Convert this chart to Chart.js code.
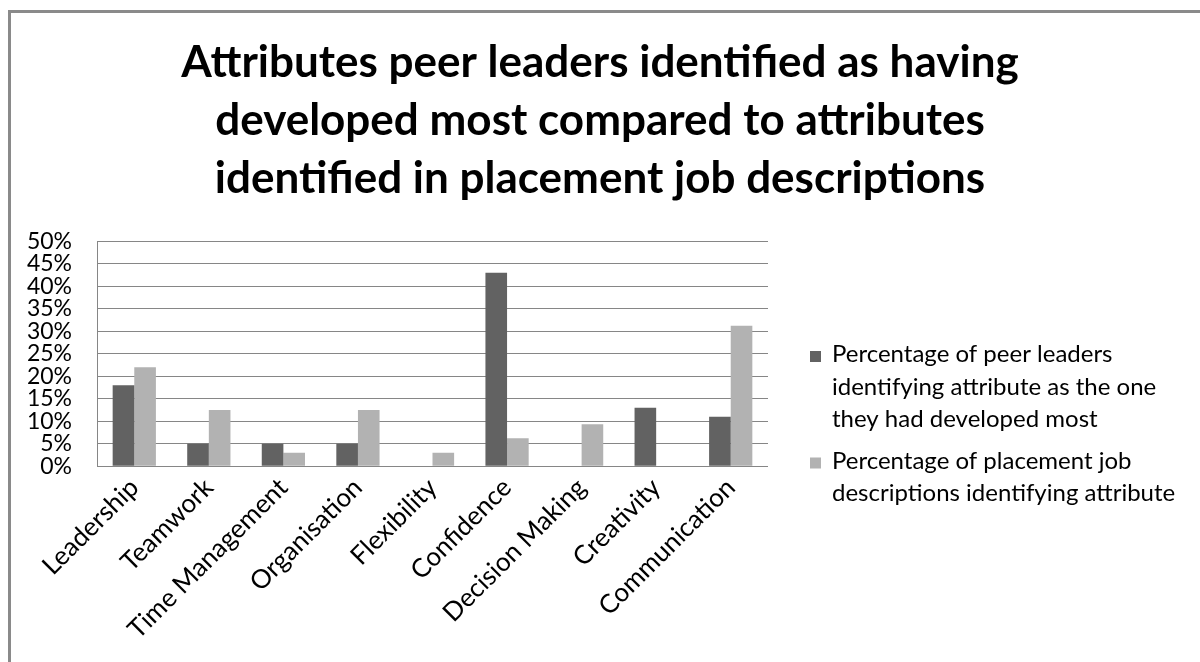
<!DOCTYPE html>
<html>
<head>
<meta charset="utf-8">
<script src="https://cdn.jsdelivr.net/npm/chart.js@4/dist/chart.umd.min.js"></script>
<style>
  html, body { margin: 0; padding: 0; background: #fff; }
  #wrap { position: relative; width: 1200px; height: 662px; overflow: hidden; }
  #frame {
    position: absolute; left: 8px; top: 10px; width: 1300px; height: 800px;
    border-left: 3px solid #8a8a8a; border-top: 3px solid #8a8a8a;
    pointer-events: none;
  }
</style>
</head>
<body>
<div id="wrap">
  <canvas id="chart" width="1200" height="662"></canvas>
  <div id="frame"></div>
</div>
<script>
// ---- data ----
const categories = ['Leadership', 'Teamwork', 'Time Management', 'Organisation', 'Flexibility',
                    'Confidence', 'Decision Making', 'Creativity', 'Communication'];
const peerLeaders = [18, 5, 5, 5, 0, 43, 0, 13, 11];
const jobDescriptions = [22, 12.5, 3, 12.5, 3, 6.2, 9.3, 0, 31.2];
const seriesLines = [
  ['Percentage of peer leaders', 'identifying attribute as the one', 'they had developed most'],
  ['Percentage of placement job', 'descriptions identifying attribute']
];
const titleLines = ['Attributes peer leaders identified as having',
                    'developed most compared to attributes',
                    'identified in placement job descriptions'];
const yMin = 0, yMax = 50, yStep = 5;

const DARK = '#626262';
const LIGHT = '#b2b2b2';
const FONT = 'Lato, "Open Sans", sans-serif';

// legend drawn on canvas to the right of the plot (multi-line labels)
const sideLegend = {
  id: 'sideLegend',
  afterDraw(chart) {
    const ctx = chart.ctx;
    const x0 = 810, textX = 832, lineH = 32.5;
    let baseline = 362;
    ctx.save();
    ctx.font = '24px ' + FONT;
    ctx.textBaseline = 'alphabetic';
    ctx.textAlign = 'left';
    chart.data.datasets.forEach((ds, i) => {
      ctx.fillStyle = ds.backgroundColor;
      ctx.fillRect(x0, baseline - 11, 11, 11);
      ctx.fillStyle = '#000';
      seriesLines[i].forEach((line, j) => {
        ctx.fillText(line, textX, baseline + j * lineH);
      });
      baseline += seriesLines[i].length * lineH + 9;
    });
    ctx.restore();
  }
};

new Chart(document.getElementById('chart'), {
  type: 'bar',
  data: {
    labels: categories,
    datasets: [{
      label: seriesLines[0].join(' '),
      data: peerLeaders,
      backgroundColor: DARK,
      barPercentage: 1,
      categoryPercentage: 0.58
    }, {
      label: seriesLines[1].join(' '),
      data: jobDescriptions,
      backgroundColor: LIGHT,
      barPercentage: 1,
      categoryPercentage: 0.58
    }]
  },
  options: {
    responsive: false,
    animation: false,
    devicePixelRatio: 1,
    layout: { padding: { left: 0, right: 0, top: 34, bottom: 11 } },
    plugins: {
      legend: { display: false },
      tooltip: { enabled: false },
      title: {
        display: true,
        text: titleLines,
        color: '#000',
        font: { family: FONT, size: 44, weight: 'bold', lineHeight: 1.32 },
        padding: { top: 0, bottom: 33 }
      }
    },
    scales: {
      x: {
        grid: { display: false, drawTicks: false },
        border: { display: false },
        ticks: {
          color: '#000',
          font: { family: FONT, size: 26 },
          minRotation: 45, maxRotation: 45,
          padding: 6, autoSkip: false
        }
      },
      y: {
        min: yMin, max: yMax,
        grid: { color: '#868686', lineWidth: 1, drawTicks: false },
        border: { display: true, color: '#868686' },
        ticks: {
          stepSize: yStep,
          autoSkip: false,
          color: '#000',
          font: { family: FONT, size: 23, lineHeight: 1 },
          padding: 25,
          callback: v => v + '%'
        },
        afterFit: s => { s.width = 97; }
      },
      spacer: {
        position: 'right',
        display: true,
        grid: { display: false, drawTicks: false },
        border: { display: false },
        ticks: { display: false },
        afterFit: s => { s.width = 432; }
      }
    }
  },
  plugins: [sideLegend]
});
</script>
</body>
</html>
